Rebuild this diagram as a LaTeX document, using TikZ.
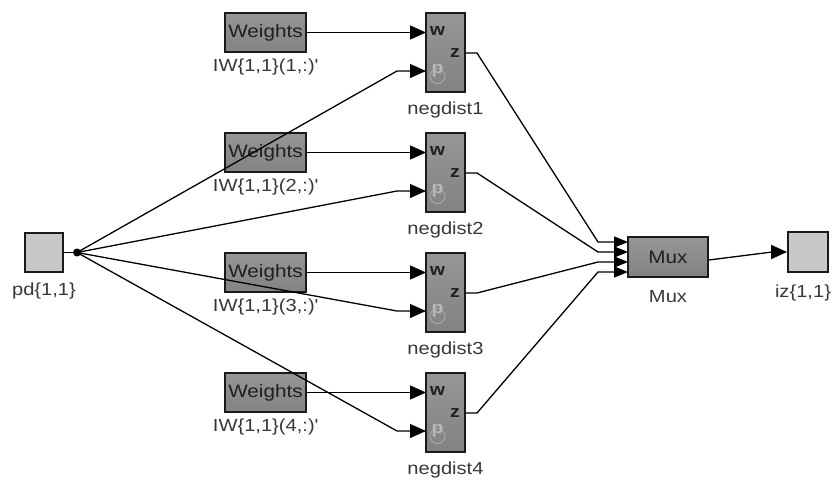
\documentclass[tikz,border=0pt]{standalone}
\usepackage{fontspec}
\setmainfont[FakeStretch=1.15]{Liberation Sans}
\usetikzlibrary{arrows.meta,calc}
\definecolor{blockgray}{HTML}{8E8E8E}
\definecolor{blocktop}{HTML}{969696}
\definecolor{blockbot}{HTML}{828282}
\definecolor{iogray}{HTML}{C8C8C8}
\definecolor{edgedark}{HTML}{1A1A1A}
\definecolor{textdark}{HTML}{202020}
\definecolor{labeltext}{HTML}{383838}
\definecolor{faint}{HTML}{B8B8B8}
\definecolor{fainter}{HTML}{A6A6A6}
\tikzset{
  blockbox/.style={rectangle, draw=edgedark, line width=1.8pt, top color=blocktop, bottom color=blockbot,
    inner sep=0pt, text=textdark, font=\fontsize{18}{20}\selectfont},
  iobox/.style={rectangle, draw=edgedark, line width=1.8pt, fill=iogray, inner sep=0pt,
    minimum width=38pt, minimum height=39pt},
  wbox/.style={blockbox, minimum width=81pt, minimum height=39pt},
  nbox/.style={blockbox, minimum width=39pt, minimum height=79pt},
  muxbox/.style={blockbox, minimum width=80pt, minimum height=40pt},
  lbl/.style={inner sep=0pt, text=labeltext, font=\fontsize{17.5}{20}\selectfont},
  portlbl/.style={inner sep=0pt, text=textdark, font=\fontsize{17}{18}\selectfont\bfseries},
  faintlbl/.style={inner sep=0pt, text=faint, font=\fontsize{17}{18}\selectfont\bfseries},
  conn/.style={draw=black, line width=1.3pt, -{Triangle[length=16pt,width=14pt]}},
  plain/.style={draw=black, line width=1.3pt},
}
\begin{document}
\begin{tikzpicture}[x=1pt,y=-1pt]
\useasboundingbox (0,0) rectangle (833,480);
% input / output
\node[iobox] (pd) at (44,252.5) {};
\node[lbl] (pdl) at (44,291) {pd\{1,1\}};
\coordinate (J) at (77,252.5);
\node[iobox, minimum width=40pt, minimum height=40pt] (iz) at (808,252) {};
\node[lbl] (izl) at (803,293) {iz\{1,1\}};
% mux
\node[muxbox] (mux) at (668,257) {Mux};
\node[lbl] (muxl) at (668,297) {Mux};
% rows
\foreach \i in {1,2,3,4}{
  \pgfmathsetmacro{\oy}{120*(\i-1)}
  \node[wbox] (W\i) at (265.5,32.5+\oy) {Weights};
  \node[lbl] (Wl\i) at (265.5,67+\oy) {IW\{1,1\}(\i,:)\textquotesingle};
  \node[nbox] (N\i) at (445.5,52.5+\oy) {};
  \node[lbl] (Nl\i) at (445.5,110+\oy) {negdist\i};
  \draw[fainter, line width=1pt] (437.5,76+\oy) circle (7.5pt);
  \node[portlbl] (Nw\i) at (437.5,31+\oy) {w};
  \node[portlbl] (Nz\i) at (455,53+\oy) {z};
  \node[faintlbl] (Np\i) at (437.5,71+\oy) {p};
  \coordinate (Pw\i) at (426,32.5+\oy);
  \coordinate (Pp\i) at (426,71+\oy);
  \coordinate (Pz\i) at (465,53+\oy);
  \coordinate (Mi\i) at (628,232+10*\i);
}
% weights to w
\foreach \i in {1,2,3,4}{
  \draw[conn] (W\i.east) -- (Pw\i);
}
% input fan
\draw[plain] (pd.east) -- (J);
\fill (J) circle (4pt);
\foreach \i in {1,2,3,4}{
  \draw[conn] (J) -- ([xshift=-29pt]Pp\i) -- (Pp\i);
}
% to mux
\foreach \i in {1,2,3,4}{
  \draw[conn, -{Triangle[length=14pt,width=11pt]}] (Pz\i) -- ++(12,0) -- ([xshift=-30pt]Mi\i) -- (Mi\i);
}
% mux to output
\draw[conn] ([yshift=-3pt]mux.east) -- ([xshift=-15pt]iz.west) -- (iz.west);
\end{tikzpicture}
\end{document}
